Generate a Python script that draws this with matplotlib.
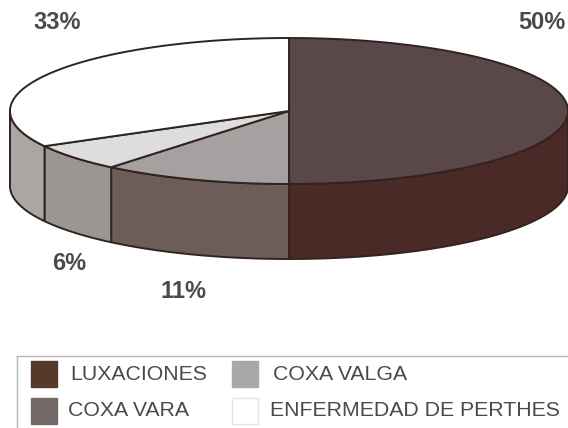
import matplotlib
matplotlib.use("Agg")
import matplotlib.pyplot as plt
import numpy as np
from matplotlib.patches import Polygon, Rectangle

plt.rcParams["font.family"] = ["Liberation Sans", "DejaVu Sans"]

categories = ["LUXACIONES", "COXA VARA", "COXA VALGA", "ENFERMEDAD DE PERTHES"]
values = [50, 11, 6, 33]
value_labels = ["50%", "11%", "6%", "33%"]

top_colors = ["#5a4749", "#a5a1a0", "#dedddd", "#ffffff"]
side_colors = ["#4a2a27", "#6c5d59", "#9b9692", "#aaa6a3"]
legend_colors = ["#553a2c", "#736a68", "#a9a8a7", "#ffffff"]
edge = "#33231f"

CX, CY, RX, RY, DEPTH = 289, 111, 279, 73, 75


def rim(t, drop=0):
    # t in degrees, clockwise from the top of the ellipse
    r = np.radians(t)
    return np.column_stack([CX + RX * np.sin(r), CY - RY * np.cos(r) + drop])


fig = plt.figure(figsize=(5.68, 4.28), dpi=100)
ax = fig.add_axes([0, 0, 1, 1])
ax.set_xlim(0, 568)
ax.set_ylim(428, 0)
ax.axis("off")

bounds = np.cumsum([0] + values) * 3.6

# front wall, only the part between 90 and 270 degrees shows
for i in range(len(values)):
    a = max(bounds[i], 90)
    b = min(bounds[i + 1], 270)
    if b <= a:
        continue
    t = np.linspace(a, b, 80)
    pts = np.vstack([rim(t), rim(t[::-1], DEPTH)])
    ax.add_patch(Polygon(pts, closed=True, fc=side_colors[i], ec=edge, lw=1.4, joinstyle="round"))

# top face
for i in range(len(values)):
    t = np.linspace(bounds[i], bounds[i + 1], 150)
    pts = np.vstack([[CX, CY], rim(t)])
    ax.add_patch(Polygon(pts, closed=True, fc=top_colors[i], ec=edge, lw=1.4, joinstyle="round"))

# value labels
label_pos = [(542, 22), (184, 292), (69, 264), (57, 22)]
for lab, (x, y) in zip(value_labels, label_pos):
    ax.text(x, y, lab, ha="center", va="center", fontsize=17, fontweight="bold", color="#4a4a4a")

# legend frame: runs off the right and bottom of the picture
ax.plot([17, 17], [428, 356], color="#b5b5b5", lw=1)
ax.plot([17, 568], [356, 356], color="#b5b5b5", lw=1)

swatches = [(31, 361), (31, 398), (232, 361), (232, 398)]
text_pos = [(70, 374), (68, 411), (273, 374), (270, 411)]
for name, col, (sx, sy), (tx, ty) in zip(categories, legend_colors, swatches, text_pos):
    ax.add_patch(Rectangle((sx, sy), 26, 26, fc=col, ec="#e2e2e2" if col == "#ffffff" else col, lw=1))
    ax.text(tx, ty, name, ha="left", va="center", fontsize=15.3, color="#4a4a4a")

fig.savefig("out.png", dpi=100)
